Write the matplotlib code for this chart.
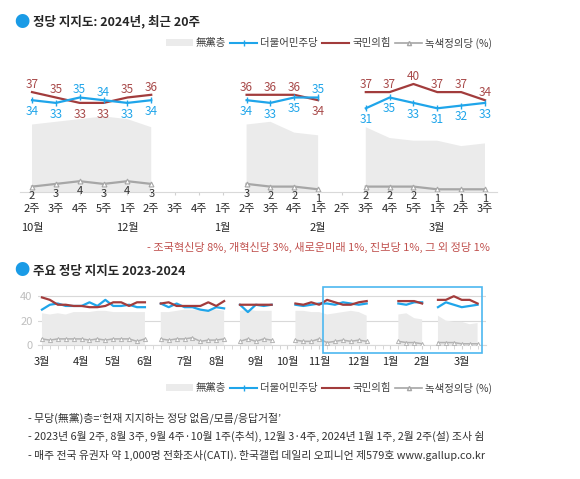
"""
정당 지지도 - 최근 20주 + 2023-2024 추이
"""

import numpy as np
import matplotlib.pyplot as plt
from matplotlib.lines import Line2D
from matplotlib.patches import Patch, Rectangle

plt.rcParams['font.family'] = ['Noto Sans CJK KR', 'DejaVu Sans']

nan = np.nan

# 최근 20주 (2024)
weeks = ['2주', '3주', '4주', '5주', '1주', '2주', '3주', '4주', '1주', '2주',
         '3주', '4주', '1주', '2주', '3주', '4주', '5주', '1주', '2주', '3주']
month_idx = [0, 4, 8, 12, 17]
month_names = ['10월', '12월', '1월', '2월', '3월']
dem = [34, 33, 35, 34, 33, 34, nan, nan, nan, 34, 33, 35, 35, nan, 31, 35, 33, 31, 32, 33]
ppp = [37, 35, 33, 33, 35, 36, nan, nan, nan, 36, 36, 36, 34, nan, 37, 37, 40, 37, 37, 34]
green = [2, 3, 4, 3, 4, 3, nan, nan, nan, 3, 2, 2, 1, nan, 2, 2, 2, 1, 1, 1]
nonpart = [25, 26, 27, 28, 27, 24, nan, nan, nan, 25, 26, 22, 21, nan, 24, 20, 19, 19, 17, 18]

# 2023년 3월 1주 ~ 10월 5주 (그 뒤는 위 20주와 같음)
dem_early = [29, 33, 34, 32, 32, 32, 35, 32, 37, 32, 32, 33, 31, 31, nan,
             34, 31, 34, 31, 31, 29, 28, 31, 30, nan,
             33, 27, 33, 32, 33, nan, nan, 33, 32, 33, 34]
ppp_early = [39, 37, 33, 33, 32, 32, 31, 31, 32, 35, 35, 32, 35, 35, nan,
             34, 35, 32, 32, 32, 32, 35, 32, 36, nan,
             33, 33, 33, 33, 33, nan, nan, 34, 33, 35, 33]
green_early = [5, 4, 5, 5, 5, 5, 4, 5, 4, 5, 5, 5, 3, 5, nan,
               5, 4, 5, 5, 6, 3, 4, 4, 5, nan,
               3, 5, 3, 5, 4, nan, nan, 4, 3, 3, 5]
nonpart_early = [26, 25, 26, 25, 27, 27, 27, 28, 28, 27, 27, 27, 27, 27, nan,
                 27, 27, 28, 29, 29, 29, 29, 29, 28, nan,
                 28, 29, 28, 28, 28, nan, nan, 28, 28, 27, 27]
long_months = ['3월', '4월', '5월', '6월', '7월', '8월', '9월', '10월', '11월', '12월', '1월', '2월', '3월']
long_month_idx = [0, 5, 9, 13, 18, 22, 27, 31, 35, 40, 44, 48, 53]

footnotes = [
    "- 무당(無黨)층=‘현재 지지하는 정당 없음/모름/응답거절’",
    "- 2023년 6월 2주, 8월 3주, 9월 4주·10월 1주(추석), 12월 3·4주, 2024년 1월 1주, 2월 2주(설) 조사 쉼",
    "- 매주 전국 유권자 약 1,000명 전화조사(CATI). 한국갤럽 데일리 오피니언 제579호 www.gallup.co.kr",
]
other_parties = "- 조국혁신당 8%, 개혁신당 3%, 새로운미래 1%, 진보당 1%, 그 외 정당 1%"

BLUE = '#1fa5ea'
RED = '#a23c3c'
RED_TXT = '#a84a4a'
GRAY = '#a6a6a6'
AREA = '#ebebeb'
W, H = 580, 479


def fx(px):
    return px / W


def fy(py):
    return 1 - py / H


fig = plt.figure(figsize=(5.8, 4.79), dpi=100)

# 제목
fig.text(fx(14), fy(22), '●', color='#1a9be6', fontsize=11, va='center')
fig.text(fx(33), fy(22), '정당 지지도: 2024년, 최근 20주', fontsize=9, fontweight='bold',
         color='#262626', va='center')
fig.text(fx(14), fy(271), '●', color='#1a9be6', fontsize=11, va='center')
fig.text(fx(33), fy(271), '주요 정당 지지도 2023-2024', fontsize=9, fontweight='bold',
         color='#262626', va='center')

# 범례
handles = [Patch(facecolor=AREA, edgecolor='none'),
           Line2D([], [], color=BLUE, lw=1.5, marker='|', markersize=4),
           Line2D([], [], color=RED, lw=1.5),
           Line2D([], [], color=GRAY, lw=1.2, marker='^', markersize=3,
                  markerfacecolor='white')]
labels = ['無黨층', '더불어민주당', '국민의힘', '녹색정의당 (%)']
for ly in (43, 388):
    fig.legend(handles, labels, loc='center', bbox_to_anchor=(fx(329), fy(ly)), ncol=4,
               frameon=False, fontsize=7.5, handlelength=2.6, handletextpad=0.3,
               columnspacing=0.4, labelcolor='#404040')

# ---- 위 차트: 최근 20주 ----
ax = fig.add_axes([fx(20.1), fy(192), fx(476.8), 121.5 / H])
x = np.arange(len(weeks))
ax.fill_between(x, 0, nonpart, color=AREA, lw=0)
ax.plot(x, ppp, color=RED, lw=1.6)
ax.plot(x, dem, color=BLUE, lw=1.6, marker='|', markersize=4, markeredgewidth=1)
ax.plot(x, green, color=GRAY, lw=1.6, marker='^', markersize=3.5,
        markerfacecolor='white', markeredgewidth=0.8)

for i in x:
    if np.isnan(dem[i]):
        continue
    d, p = dem[i], ppp[i]
    d_off, p_off = (-8, 5.5) if d < p else (5.5, -8)
    ax.annotate(f'{d:.0f}', (i, d), xytext=(0, d_off), textcoords='offset points',
                ha='center', va='center', color=BLUE, fontsize=8.5)
    ax.annotate(f'{p:.0f}', (i, p), xytext=(0, p_off), textcoords='offset points',
                ha='center', va='center', color=RED_TXT, fontsize=8.5)
    ax.annotate(f'{green[i]:.0f}', (i, green[i]), xytext=(0, -7), textcoords='offset points',
                ha='center', va='center', color='#333333', fontsize=8)

ax.set_xlim(-0.5, len(weeks) - 0.5)
ax.set_ylim(0, 45)
ax.set_xticks(x, weeks)
ax.tick_params(axis='x', length=2.5, color='#d0d0d0', pad=6, labelsize=8, labelcolor='#262626')
ax.set_yticks([])
for s in ['top', 'right', 'left']:
    ax.spines[s].set_visible(False)
ax.spines['bottom'].set_color('#d9d9d9')
for pos, name in zip(month_idx, month_names):
    ax.text(pos, -0.296, name, transform=ax.get_xaxis_transform(), ha='center',
            va='center', fontsize=8, color='#262626')
ax.patch.set_alpha(0)

fig.text(fx(490), fy(247), other_parties, ha='right', va='center', fontsize=8, color='#c0504d')

# ---- 아래 차트: 2023-2024 ----
dem_all = dem_early + dem
ppp_all = ppp_early + ppp
green_all = green_early + green
nonpart_all = nonpart_early + nonpart
xl = np.arange(len(dem_all))

ax2 = fig.add_axes([fx(38), fy(345), fx(447.5), 54.9 / H])
ax2.fill_between(xl, 0, nonpart_all, color=AREA, lw=0, zorder=1)
ax2.plot(xl, green_all, color='#b3b3b3', lw=1.1, marker='^', markersize=3,
         markerfacecolor='white', markeredgewidth=0.7, zorder=3)
ax2.plot(xl, dem_all, color=BLUE, lw=1.6, zorder=3)
ax2.plot(xl, ppp_all, color=RED, lw=1.6, zorder=3)
ax2.set_xlim(-0.5, 56)
ax2.set_ylim(0, 45)
ax2.set_yticks([0, 20, 40])
ax2.grid(axis='y', color='#d9d9d9', lw=0.8, zorder=0)
ax2.set_axisbelow(True)
ax2.tick_params(axis='y', length=0, labelsize=8, labelcolor='#bfbfbf', pad=4)
ax2.set_xticks(long_month_idx, long_months)
ax2.set_xticks(xl, minor=True)
ax2.tick_params(axis='x', which='both', length=3, color='#d0d0d0', pad=6,
                labelsize=8, labelcolor='#262626')
for s in ['top', 'right', 'left']:
    ax2.spines[s].set_visible(False)
ax2.spines['bottom'].set_color('#d9d9d9')

# 최근 20주 강조 박스
n_last = len(weeks)
ax2.add_patch(Rectangle((len(xl) - n_last - 0.5, -6.6), n_last, 54.1, fill=False,
                        edgecolor='#4db8f0', lw=1.2, clip_on=False, zorder=5))

# 각주
for k, line in enumerate(footnotes):
    fig.text(fx(28), fy(418 + 18.5 * k), line, fontsize=7.8, color='#333333', va='center')

plt.savefig('out.png', dpi=100)
